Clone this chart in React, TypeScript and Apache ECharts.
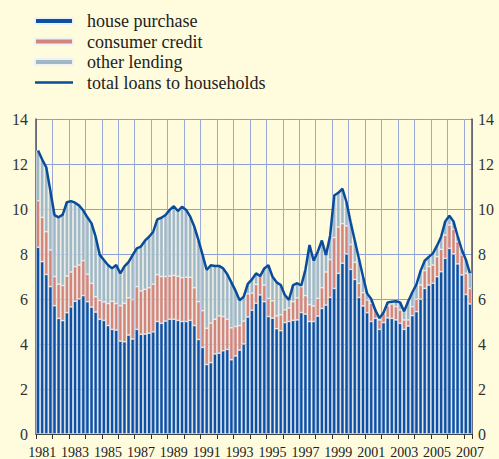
import React, { useEffect, useRef } from "react";
import * as echarts from "echarts";

const years = [1981, 1982, 1983, 1984, 1985, 1986, 1987, 1988, 1989, 1990, 1991, 1992, 1993, 1994, 1995, 1996, 1997, 1998, 1999, 2000, 2001, 2002, 2003, 2004, 2005, 2006, 2007];
const quarters = ["Q1", "Q2", "Q3", "Q4"];
const lastQuarterCount = 106;

const housePurchase = [
  8.30, 7.66, 7.09, 6.55, 5.70, 5.14, 5.04, 5.39, 5.65, 5.90, 6.00, 6.15, 5.88, 5.64, 5.42, 5.10,
  5.05, 4.82, 4.65, 4.62, 4.13, 4.10, 4.40, 4.22, 4.65, 4.43, 4.44, 4.48, 4.54, 5.00, 4.92, 5.02,
  5.10, 5.10, 5.05, 5.00, 5.00, 5.05, 4.82, 4.20, 3.85, 3.09, 3.17, 3.56, 3.59, 3.70, 3.76, 3.30,
  3.47, 3.73, 4.00, 5.20, 5.50, 5.81, 6.18, 5.88, 5.22, 5.15, 4.68, 4.59, 4.95, 5.00, 5.05, 5.07,
  5.40, 5.33, 5.00, 5.00, 5.24, 5.58, 5.73, 6.07, 6.47, 7.14, 7.59, 8.00, 7.32, 6.87, 6.07, 5.69,
  5.39, 5.00, 5.14, 4.65, 4.95, 5.16, 5.14, 5.07, 4.92, 4.65, 4.80, 5.26, 5.44, 5.99, 6.47, 6.62,
  6.70, 6.99, 7.21, 7.81, 8.25, 8.00, 7.56, 7.07, 6.20, 5.78
];

const consumerCredit = [
  2.07, 1.97, 1.90, 1.63, 1.30, 1.52, 1.56, 1.63, 1.55, 1.54, 1.51, 1.55, 1.22, 1.06, 0.68, 0.84,
  0.82, 0.98, 1.25, 1.18, 1.57, 1.71, 1.65, 1.75, 1.90, 1.93, 1.99, 2.02, 2.12, 2.08, 2.08, 1.98,
  1.92, 1.95, 1.96, 1.95, 1.97, 1.91, 1.68, 1.68, 1.63, 1.61, 1.76, 1.54, 1.66, 1.52, 1.34, 1.42,
  1.31, 1.09, 1.02, 1.03, 0.76, 0.84, 0.87, 0.74, 0.81, 0.77, 0.57, 0.71, 0.57, 0.60, 0.83, 0.98,
  1.15, 0.82, 0.75, 0.69, 0.79, 0.92, 1.47, 1.68, 2.26, 2.06, 1.76, 1.25, 1.10, 0.76, 0.63, 0.59,
  0.57, 0.81, 0.45, 0.42, 0.41, 0.54, 0.64, 0.59, 0.59, 0.42, 0.27, 0.40, 0.55, 0.63, 0.79, 0.82,
  0.81, 0.89, 1.00, 1.03, 1.04, 1.10, 0.99, 0.89, 0.94, 0.69
];

const otherLending = [
  2.23, 2.57, 2.86, 2.62, 2.73, 2.97, 3.15, 3.28, 3.15, 2.84, 2.64, 2.23, 2.53, 2.66, 2.67, 2.02,
  1.86, 1.71, 1.46, 1.71, 1.44, 1.64, 1.59, 1.98, 1.70, 1.97, 2.16, 2.27, 2.33, 2.46, 2.61, 2.73,
  2.94, 3.07, 2.90, 3.15, 2.99, 2.70, 2.71, 2.74, 2.48, 2.59, 2.57, 2.37, 2.22, 2.14, 2.00, 2.02,
  1.59, 1.12, 1.08, 0.44, 0.61, 0.49, 0.00, 0.74, 1.47, 1.07, 1.49, 1.32, 0.66, 0.36, 0.74, 0.65,
  0.05, 1.15, 2.65, 2.01, 2.07, 2.10, 0.75, 1.05, 1.87, 1.52, 1.55, 1.05, 0.98, 0.97, 1.10, 0.72,
  0.29, 0.19, 0.00, 0.08, 0.04, 0.15, 0.10, 0.24, 0.34, 0.38, 0.83, 0.64, 0.66, 0.63, 0.44, 0.43,
  0.52, 0.49, 0.56, 0.61, 0.41, 0.35, 0.25, 0.24, 0.61, 0.67
];

const totalLoans = [
  12.60, 12.20, 11.85, 10.80, 9.73, 9.63, 9.75, 10.30, 10.35, 10.28, 10.15, 9.93, 9.63, 9.36, 8.77, 7.96,
  7.73, 7.51, 7.36, 7.51, 7.14, 7.45, 7.64, 7.95, 8.25, 8.33, 8.59, 8.77, 8.99, 9.54, 9.61, 9.73,
  9.96, 10.12, 9.91, 10.10, 9.96, 9.66, 9.21, 8.62, 7.96, 7.29, 7.50, 7.47, 7.47, 7.36, 7.10, 6.74,
  6.37, 5.94, 6.10, 6.67, 6.87, 7.14, 7.02, 7.36, 7.50, 6.99, 6.74, 6.62, 6.18, 5.96, 6.62, 6.70,
  6.60, 7.30, 8.40, 7.70, 8.10, 8.60, 7.95, 8.80, 10.60, 10.72, 10.90, 10.30, 9.40, 8.60, 7.80, 7.00,
  6.25, 6.00, 5.50, 5.15, 5.40, 5.85, 5.88, 5.90, 5.85, 5.45, 5.90, 6.30, 6.65, 7.25, 7.70, 7.87,
  8.03, 8.37, 8.77, 9.45, 9.70, 9.45, 8.80, 8.20, 7.75, 7.14
];

const yTicks = [0, 2, 4, 6, 8, 10, 12, 14];

const categories: string[] = [];
years.forEach((y) => quarters.forEach((q) => categories.push(`${y} ${q}`)));
categories.length = lastQuarterCount;

const SERIF = "Liberation Serif";

export default function App() {
  const ref = useRef<HTMLDivElement>(null);
  useEffect(() => {
    if (!ref.current) return;
    const chart = echarts.init(ref.current, null, { renderer: "svg" });
    const barBorder = { borderColor: "#eef1f7", borderWidth: 0.6 };
    chart.setOption({
      animation: false,
      backgroundColor: "#fffbdd",
      textStyle: { fontFamily: SERIF },
      legend: {
        orient: "vertical",
        left: 34,
        top: 12,
        padding: 0,
        itemWidth: 38,
        itemHeight: 6,
        itemGap: 2.5,
        textStyle: { fontFamily: SERIF, fontSize: 18, color: "#222", padding: [0, 0, 0, 9], lineHeight: 18 },
        data: [
          { name: "house purchase", icon: "rect" },
          { name: "consumer credit", icon: "rect" },
          { name: "other lending", icon: "rect" },
          { name: "total loans to households", icon: "path://M0,0h38v2.5h-38z" },
        ],
      },
      grid: { left: 36, right: 27, top: 119, bottom: 25, containLabel: false },
      xAxis: {
        type: "category",
        data: categories,
        boundaryGap: true,
        offset: 2,
        axisLine: { show: true, lineStyle: { color: "#333", width: 1 } },
        axisTick: { show: true, interval: (i: number) => i % 4 === 0, length: 5, lineStyle: { color: "#333" } },
        axisLabel: {
          interval: (i: number) => i % 8 === 1,
          formatter: (v: string) => v.slice(0, 4),
          fontFamily: SERIF,
          fontSize: 14,
          color: "#222",
          margin: 9,
        },
        splitLine: { show: true, interval: (i: number) => i % 4 === 0, lineStyle: { color: "#9aa8d8", width: 1 } },
      },
      yAxis: [
        {
          type: "value",
          min: 0,
          max: 14,
          interval: 2,
          position: "left",
          axisLine: { show: true, lineStyle: { color: "#555", width: 1.5 } },
          axisTick: { show: false },
          axisLabel: { fontFamily: SERIF, fontSize: 16, color: "#333", margin: 8, formatter: (v: number) => (yTicks.includes(v) ? String(v) : "") },
          splitLine: { show: true, lineStyle: { color: "#8d9dd8", width: 1 } },
        },
        {
          type: "value",
          min: 0,
          max: 14,
          interval: 2,
          position: "right",
          axisLine: { show: true, lineStyle: { color: "#555", width: 1.5 } },
          axisTick: { show: false },
          axisLabel: { fontFamily: SERIF, fontSize: 16, color: "#333", margin: 6, formatter: (v: number) => (yTicks.includes(v) ? String(v) : "") },
          splitLine: { show: false },
        },
      ],
      series: [
        {
          name: "house purchase",
          type: "bar",
          stack: "loans",
          barCategoryGap: "8%",
          data: housePurchase,
          itemStyle: { color: "#0c4fa3", ...barBorder },
        },
        {
          name: "consumer credit",
          type: "bar",
          stack: "loans",
          data: consumerCredit,
          itemStyle: { color: "#d2867a", ...barBorder },
        },
        {
          name: "other lending",
          type: "bar",
          stack: "loans",
          data: otherLending,
          itemStyle: { color: "#9fb8c4", ...barBorder },
        },
        {
          name: "total loans to households",
          type: "line",
          data: totalLoans,
          symbol: "none",
          z: 5,
          lineStyle: { color: "#0a4c9c", width: 2.5 },
          itemStyle: { color: "#0a4c9c" },
        },
      ],
    });
    return () => chart.dispose();
  }, []);
  return <div ref={ref} style={{ position: "fixed", left: 0, top: 0, width: 499, height: 459 }} />;
}
